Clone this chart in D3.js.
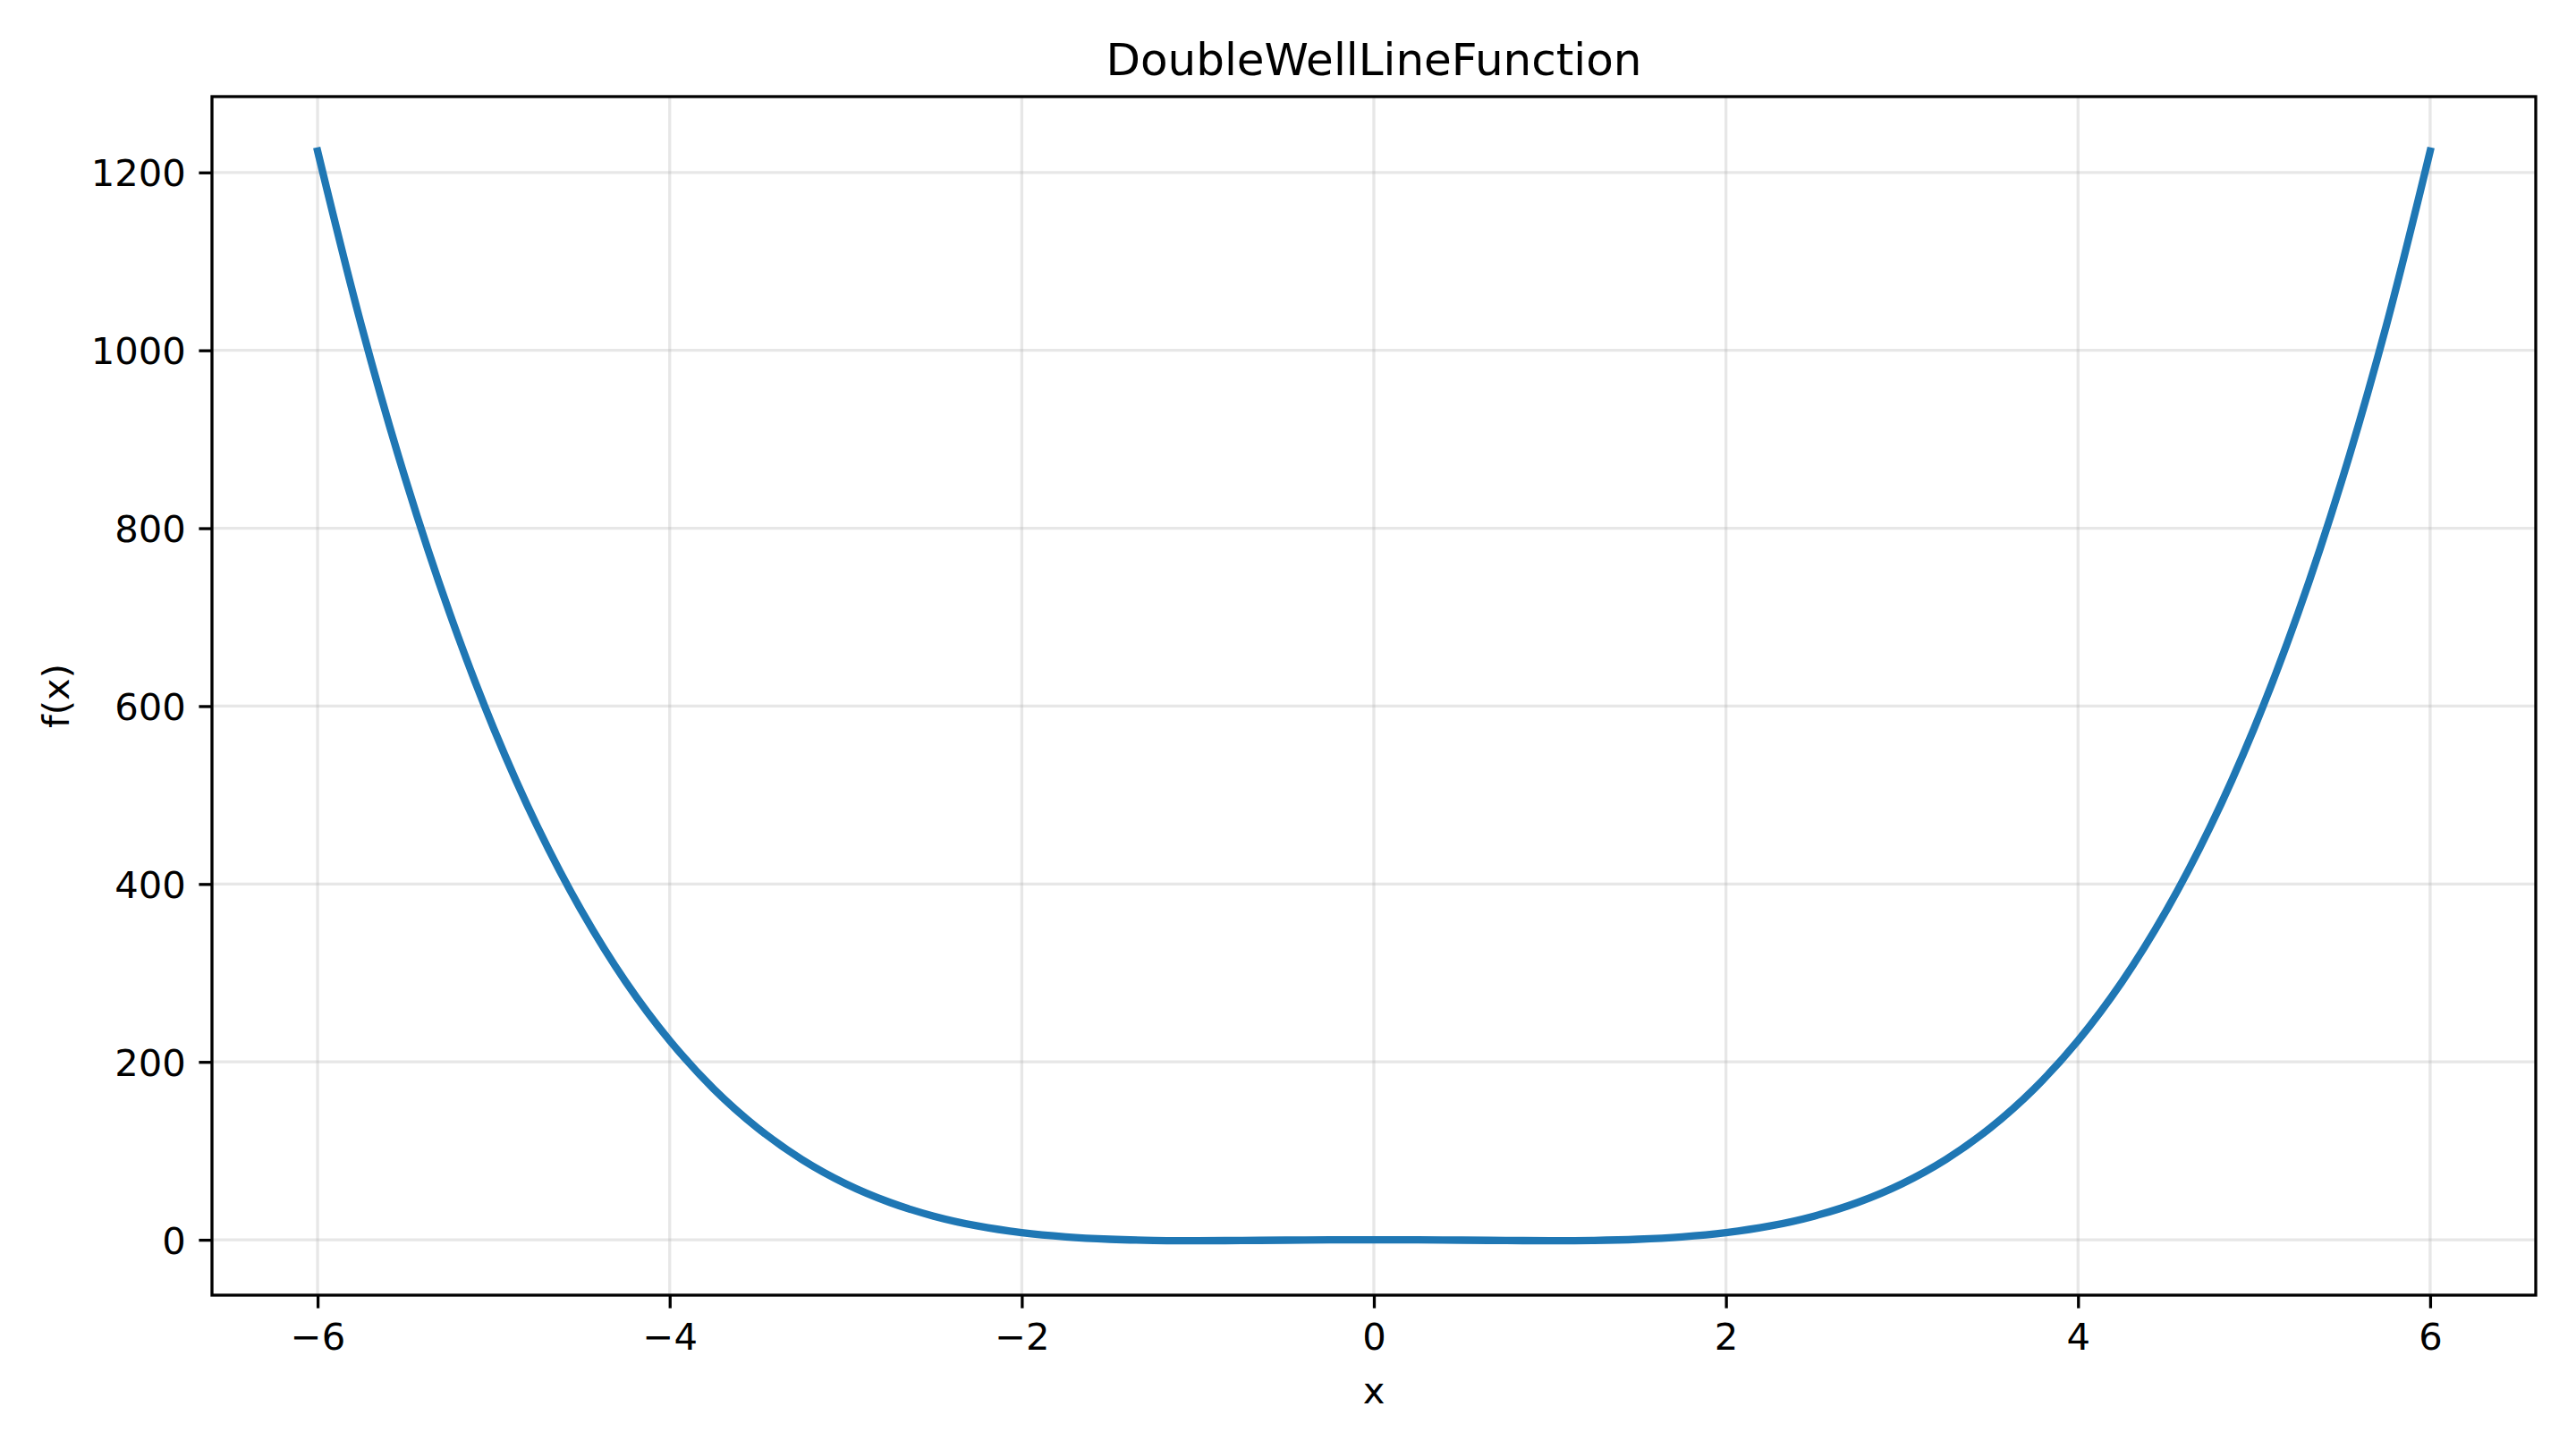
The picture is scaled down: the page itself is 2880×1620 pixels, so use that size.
<!DOCTYPE html>
<html>
<head>
<meta charset="utf-8">
<script src="https://cdn.jsdelivr.net/npm/d3@7"></script>
<style>
  body { margin: 0; background: #fff; }
  text { font-family: "DejaVu Sans", sans-serif; }
</style>
</head>
<body>
<div class="chart"></div>
<script>
// values
const xs = [-6, -5.75, -5.5, -5.25, -5, -4.75, -4.5, -4.25, -4, -3.75, -3.5, -3.25, -3,
            -2.75, -2.5, -2.25, -2, -1.75, -1.5, -1.25, -1, -0.75, -0.5, -0.25, 0,
            0.25, 0.5, 0.75, 1, 1.25, 1.5, 1.75, 2, 2.25, 2.5, 2.75, 3,
            3.25, 3.5, 3.75, 4, 4.25, 4.5, 4.75, 5, 5.25, 5.5, 5.75, 6];
const fx = [1224, 1027, 854.6, 704.6, 575, 463.9, 369.6, 290.1, 224, 169.6, 125.6, 90.4, 63,
            42.1, 26.6, 15.5, 8, 3.3, 0.6, -0.7, -1, -0.8, -0.4, -0.1, 0,
            -0.1, -0.4, -0.8, -1, -0.7, 0.6, 3.3, 8, 15.5, 26.6, 42.1, 63,
            90.4, 125.6, 169.6, 224, 290.1, 369.6, 463.9, 575, 704.6, 854.6, 1027, 1224];
const xTicks = [-6, -4, -2, 0, 2, 4, 6];
const yTicks = [0, 200, 400, 600, 800, 1000, 1200];

const width = 2880, height = 1620;
const margin = {top: 108, right: 45, bottom: 172, left: 237};
const iw = width - margin.left - margin.right;
const ih = height - margin.top - margin.bottom;

const data = xs.map((x, i) => ({x: x, y: fx[i]}));

// matplotlib style 5% padding
const xPad = (d3.max(xs) - d3.min(xs)) * 0.05;
const yPad = (d3.max(fx) - d3.min(fx)) * 0.05;
const x = d3.scaleLinear().domain([d3.min(xs) - xPad, d3.max(xs) + xPad]).range([0, iw]);
const y = d3.scaleLinear().domain([d3.min(fx) - yPad, d3.max(fx) + yPad]).range([ih, 0]);

const fmt = d => d < 0 ? "\u2212" + (-d) : String(d);

const svg = d3.select(".chart")
    .append("svg")
    .attr("width", width)
    .attr("height", height)
    .attr("viewBox", [0, 0, width, height]);

svg.append("rect").attr("width", width).attr("height", height).attr("fill", "#fff");

const g = svg.append("g").attr("transform", `translate(${margin.left},${margin.top})`);

// grid
g.append("g").selectAll("line")
    .data(xTicks)
    .join("line")
    .attr("x1", d => x(d)).attr("x2", d => x(d))
    .attr("y1", 0).attr("y2", ih)
    .attr("stroke", "#b0b0b0").attr("stroke-opacity", 0.3).attr("stroke-width", 3.3);

g.append("g").selectAll("line")
    .data(yTicks)
    .join("line")
    .attr("x1", 0).attr("x2", iw)
    .attr("y1", d => y(d)).attr("y2", d => y(d))
    .attr("stroke", "#b0b0b0").attr("stroke-opacity", 0.3).attr("stroke-width", 3.3);

// curve
const line = d3.line()
    .x(d => x(d.x))
    .y(d => y(d.y))
    .curve(d3.curveCatmullRom.alpha(0.5));

g.append("path")
    .datum(data)
    .attr("d", line)
    .attr("fill", "none")
    .attr("stroke", "#1f77b4")
    .attr("stroke-width", 8.3)
    .attr("stroke-linecap", "square")
    .attr("stroke-linejoin", "round");

// axes
const xAxis = g.append("g")
    .attr("transform", `translate(0,${ih})`)
    .call(d3.axisBottom(x).tickValues(xTicks).tickFormat(fmt).tickSize(14.6).tickPadding(14.6).tickSizeOuter(0));
const yAxis = g.append("g")
    .call(d3.axisLeft(y).tickValues(yTicks).tickFormat(fmt).tickSize(14.6).tickPadding(14.6).tickSizeOuter(0));

[xAxis, yAxis].forEach(a => {
    a.select(".domain").remove();
    a.selectAll(".tick line").attr("stroke", "#000").attr("stroke-width", 3.3);
    a.selectAll(".tick text")
        .attr("fill", "#000")
        .style("font-size", "41.7px")
        .style("font-family", "'DejaVu Sans', sans-serif");
});
xAxis.selectAll(".tick text").attr("dy", "0.76em");
yAxis.selectAll(".tick text").attr("dy", "0.36em");

// frame
g.append("rect")
    .attr("width", iw).attr("height", ih)
    .attr("fill", "none")
    .attr("stroke", "#000")
    .attr("stroke-width", 3.3)
    .attr("stroke-linecap", "square");

// labels
svg.append("text")
    .attr("x", margin.left + iw / 2)
    .attr("y", 84)
    .attr("text-anchor", "middle")
    .style("font-size", "50px")
    .text("DoubleWellLineFunction");

svg.append("text")
    .attr("x", margin.left + iw / 2)
    .attr("y", 1569)
    .attr("text-anchor", "middle")
    .style("font-size", "41.7px")
    .text("x");

svg.append("text")
    .attr("transform", `translate(77,${margin.top + ih / 2}) rotate(-90)`)
    .attr("text-anchor", "middle")
    .style("font-size", "41.7px")
    .text("f(x)");
</script>
</body>
</html>
